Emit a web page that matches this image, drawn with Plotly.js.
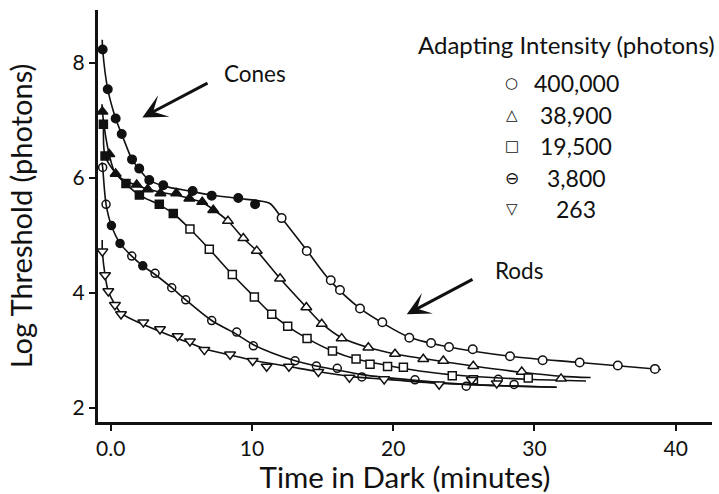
<!DOCTYPE html>
<html>
<head>
<meta charset="utf-8">
<script src="https://cdn.plot.ly/plotly-3.0.1.min.js"></script>
<style>
  html, body { margin: 0; padding: 0; background: #fff; }
  #chart { width: 719px; height: 494px; }
</style>
</head>
<body>
<div id="chart"></div>
<script>
// Dark adaptation curves: log threshold against minutes in the dark,
// one curve per adapting intensity.
const intensityLabels = ['400,000', '38,900', '19,500', '3,800', '263'];
const legendGlyphs = ['\u25CB', '\u25B3', '\u25A1', '\u2296', '\u25BD'];

// measured thresholds (minutes, log photons)
const minutes400k = [-0.57, -0.21, 0.35, 0.78, 1.51, 2.02, 2.73, 3.72, 5.80, 7.15, 9.03, 10.22, 12.10, 13.88, 15.58, 16.23, 17.65, 19.23, 21.14, 22.68, 23.95, 25.63, 28.27, 30.58, 33.20, 35.90, 38.53];
const logThr400k  = [8.23, 7.54, 7.03, 6.76, 6.32, 6.16, 5.96, 5.87, 5.77, 5.69, 5.65, 5.54, 5.30, 4.73, 4.22, 4.05, 3.73, 3.49, 3.22, 3.13, 3.06, 3.02, 2.90, 2.83, 2.79, 2.74, 2.68];

const minutes38900 = [-0.59, -0.10, 0.35, 1.84, 2.62, 3.52, 4.64, 5.57, 6.48, 7.26, 8.30, 9.39, 10.34, 11.99, 13.85, 14.94, 16.35, 18.24, 20.13, 22.13, 23.55, 25.67, 29.10, 31.88];
const logThr38900  = [7.15, 6.41, 6.07, 5.88, 5.80, 5.73, 5.73, 5.64, 5.58, 5.44, 5.25, 4.95, 4.73, 4.25, 3.75, 3.46, 3.21, 3.05, 2.94, 2.85, 2.82, 2.73, 2.63, 2.51];

const minutes19500 = [-0.52, -0.40, 1.08, 2.03, 3.44, 4.43, 5.61, 6.98, 8.61, 10.17, 11.40, 12.53, 13.90, 15.70, 17.37, 18.36, 19.60, 20.72, 24.18, 25.68, 29.56];
const logThr19500  = [6.93, 6.38, 5.90, 5.70, 5.54, 5.38, 5.11, 4.76, 4.32, 3.93, 3.63, 3.42, 3.21, 2.99, 2.85, 2.76, 2.72, 2.71, 2.56, 2.49, 2.52];

const minutes3800 = [-0.57, -0.33, 0.05, 0.66, 1.49, 2.27, 3.14, 4.32, 5.31, 7.15, 8.92, 10.10, 13.05, 14.56, 16.04, 17.78, 21.54, 25.17, 27.44, 28.56];
const logThr3800  = [6.18, 5.54, 5.17, 4.86, 4.64, 4.47, 4.34, 4.09, 3.88, 3.52, 3.32, 3.08, 2.82, 2.73, 2.69, 2.54, 2.49, 2.38, 2.50, 2.41];

const minutes263 = [-0.59, -0.40, -0.17, 0.30, 0.73, 2.31, 3.49, 4.74, 5.61, 6.63, 8.45, 10.05, 11.04, 12.62, 14.70, 16.90, 19.36, 23.25, 25.56, 27.33];
const logThr263  = [4.72, 4.31, 4.03, 3.79, 3.63, 3.49, 3.37, 3.25, 3.16, 3.01, 2.93, 2.82, 2.72, 2.72, 2.63, 2.53, 2.50, 2.41, 2.49, 2.43];

// smooth fitted curves drawn through each data set
const fitMin400k = [-0.60, -0.57, -0.21, 0.35, 0.78, 1.51, 2.02, 2.73, 3.72, 5.80, 7.15, 9.03, 10.5, 11.3, 12.1, 13.88, 15.58, 17.65, 19.23, 21.14, 23.95, 28.27, 33.2, 38.96];
const fitLog400k = [8.40, 8.23, 7.54, 7.03, 6.76, 6.32, 6.15, 5.96, 5.86, 5.76, 5.70, 5.64, 5.60, 5.55, 5.30, 4.74, 4.20, 3.73, 3.48, 3.23, 3.06, 2.90, 2.79, 2.67];

const fitMin38900 = [-0.62, -0.59, -0.10, 0.35, 1.0, 1.84, 2.62, 3.52, 4.64, 5.57, 6.48, 7.26, 8.30, 9.39, 10.34, 11.99, 13.85, 14.94, 16.35, 18.24, 20.13, 22.13, 25.67, 29.10, 31.88, 33.98];
const fitLog38900 = [7.28, 7.15, 6.40, 6.07, 5.95, 5.87, 5.80, 5.75, 5.70, 5.64, 5.57, 5.45, 5.25, 4.95, 4.73, 4.25, 3.75, 3.47, 3.22, 3.05, 2.94, 2.86, 2.73, 2.62, 2.55, 2.53];

const fitMin19500 = [-0.55, -0.52, -0.40, 0.38, 1.08, 2.03, 3.44, 4.43, 5.61, 6.98, 8.61, 10.17, 11.40, 12.53, 13.90, 15.70, 17.37, 19.60, 22.0, 25.0, 29.56, 33.65];
const fitLog19500 = [7.02, 6.93, 6.38, 6.07, 5.89, 5.70, 5.53, 5.38, 5.11, 4.76, 4.32, 3.93, 3.63, 3.42, 3.21, 2.99, 2.85, 2.74, 2.64, 2.56, 2.50, 2.47];

const fitMin3800 = [-0.62, -0.57, -0.33, 0.05, 0.66, 1.49, 2.27, 3.14, 4.32, 5.31, 7.15, 8.92, 10.10, 13.05, 14.56, 16.04, 17.78, 21.54, 25.17, 28.56, 31.57];
const fitLog3800 = [6.27, 6.18, 5.54, 5.17, 4.86, 4.64, 4.47, 4.32, 4.09, 3.88, 3.52, 3.28, 3.10, 2.82, 2.73, 2.66, 2.58, 2.48, 2.41, 2.38, 2.36];

const fitMin263 = [-0.60, -0.59, -0.40, -0.17, 0.30, 0.73, 2.31, 3.49, 4.74, 5.61, 6.63, 8.45, 10.05, 12.62, 14.70, 16.90, 19.36, 23.25, 27.33, 31.57];
const fitLog263 = [4.92, 4.72, 4.31, 4.03, 3.80, 3.65, 3.45, 3.33, 3.21, 3.13, 3.03, 2.92, 2.83, 2.72, 2.63, 2.55, 2.50, 2.43, 2.39, 2.36];

// leading cone-branch points of each set (drawn solid)
const conePoints = [12, 10, 6, 0, 0];
const solidPoints3800 = [2, 3, 5];

const FONT = 'Lato, Open Sans, sans-serif';
const INK = '#111';

const sets = [
  { x: minutes400k,  y: logThr400k,  fx: fitMin400k,  fy: fitLog400k,  symbol: 'circle',        size: 8.5, open: '#fff' },
  { x: minutes38900, y: logThr38900, fx: fitMin38900, fy: fitLog38900, symbol: 'triangle-up',   size: 9.5, open: '#fff' },
  { x: minutes19500, y: logThr19500, fx: fitMin19500, fy: fitLog19500, symbol: 'square',        size: 8,   open: '#fff' },
  { x: minutes3800,  y: logThr3800,  fx: fitMin3800,  fy: fitLog3800,  symbol: 'circle',        size: 8,   open: 'rgba(0,0,0,0)' },
  { x: minutes263,   y: logThr263,   fx: fitMin263,   fy: fitLog263,   symbol: 'triangle-down', size: 9.5, open: '#fff' }
];

const curveTraces = sets.map(s => ({
  type: 'scatter', mode: 'lines', x: s.fx, y: s.fy,
  line: { color: INK, width: 1.6, shape: 'spline', smoothing: 0.9 },
  hoverinfo: 'skip', showlegend: false
}));

const pointTraces = sets.map((s, i) => {
  const fills = s.x.map((_, k) => {
    const solid = k < conePoints[i] || (i === 3 && solidPoints3800.includes(k));
    return solid ? INK : s.open;
  });
  return {
    type: 'scatter', mode: 'markers', x: s.x, y: s.y,
    name: intensityLabels[i],
    marker: { symbol: s.symbol, size: s.size, color: fills, line: { color: INK, width: 1.5 } },
    showlegend: false
  };
});

// plot-area geometry in pixels, used to place the key in paper units
const W = 719, H = 494;
const M = { l: 98, r: 7, t: 10, b: 72 };
const px2x = px => (px - M.l) / (W - M.l - M.r);
const py2y = py => (H - M.b - py) / (H - M.t - M.b);

const annotations = [
  { xref: 'paper', yref: 'paper', x: px2x(566), y: py2y(45), text: 'Adapting Intensity (photons)',
    showarrow: false, xanchor: 'center', yanchor: 'middle', font: { family: FONT, size: 24, color: INK } },
  { xref: 'paper', yref: 'paper', x: px2x(255), y: py2y(73), text: 'Cones',
    showarrow: false, xanchor: 'center', yanchor: 'middle', font: { family: FONT, size: 22.5, color: INK } },
  { xref: 'paper', yref: 'paper', x: px2x(519), y: py2y(270), text: 'Rods',
    showarrow: false, xanchor: 'center', yanchor: 'middle', font: { family: FONT, size: 22.5, color: INK } },
  // arrows pointing at the cone and rod branches
  { xref: 'x', yref: 'y', axref: 'x', ayref: 'y', x: 2.24, y: 7.05, ax: 6.96, ay: 7.66, text: '',
    showarrow: true, arrowhead: 3, arrowsize: 1.35, arrowwidth: 3, arrowcolor: INK, standoff: 0 },
  { xref: 'x', yref: 'y', axref: 'x', ayref: 'y', x: 20.96, y: 3.63, ax: 25.72, ay: 4.25, text: '',
    showarrow: true, arrowhead: 3, arrowsize: 1.3, arrowwidth: 3, arrowcolor: INK, standoff: 0 }
];

// key entries: glyph + intensity label per row
const glyphSizes = [15, 15, 15, 17, 15];
intensityLabels.forEach((lab, i) => {
  const rowY = 83.3 + i * 31.5;
  annotations.push({ xref: 'paper', yref: 'paper', x: px2x(511.5), y: py2y(rowY), text: legendGlyphs[i],
    showarrow: false, xanchor: 'center', yanchor: 'middle', font: { family: 'DejaVu Sans', size: glyphSizes[i], color: INK } });
  annotations.push({ xref: 'paper', yref: 'paper', x: px2x(576), y: py2y(rowY), text: lab,
    showarrow: false, xanchor: 'center', yanchor: 'middle', font: { family: FONT, size: 23, color: INK } });
});

const axisCommon = {
  showline: true, linecolor: INK, linewidth: 3, mirror: false,
  ticks: 'outside', ticklen: 6, tickwidth: 2, tickcolor: INK,
  showgrid: false, zeroline: false,
  tickfont: { family: FONT, size: 21, color: INK }
};

const layout = {
  width: W, height: H, margin: M,
  paper_bgcolor: '#fff', plot_bgcolor: '#fff',
  showlegend: false,
  xaxis: Object.assign({}, axisCommon, {
    range: [-0.90, 42.57],
    tickvals: [0, 10, 20, 30, 40], ticktext: ['0.0', '10', '20', '30', '40'],
    title: { text: 'Time in Dark (minutes)', font: { family: FONT, size: 29.5, color: INK }, standoff: 6 }
  }),
  yaxis: Object.assign({}, axisCommon, {
    range: [1.757, 8.916],
    tickvals: [2, 4, 6, 8], ticktext: ['2', '4', '6', '8'],
    title: { text: 'Log Threshold (photons)', font: { family: FONT, size: 29, color: INK }, standoff: 32 }
  }),
  annotations: annotations
};

Plotly.newPlot('chart', curveTraces.concat(pointTraces), layout, { staticPlot: true, displayModeBar: false });
</script>
</body>
</html>
